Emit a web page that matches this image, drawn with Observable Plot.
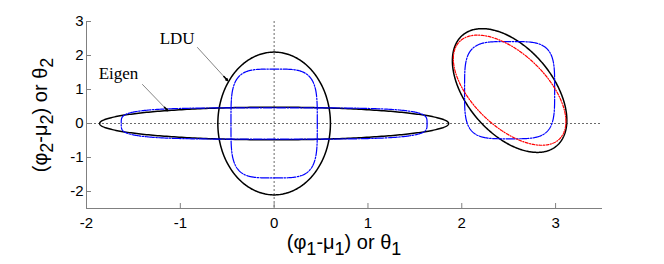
<!DOCTYPE html>
<html><head><meta charset="utf-8">
<script src="https://cdn.jsdelivr.net/npm/d3@7"></script>
<script src="https://cdn.jsdelivr.net/npm/@observablehq/plot@0.6"></script>
<style>
body{margin:0;background:#fff} #chart{width:664px;height:264px}
#chart g[aria-label$="tick label"], #chart g[aria-label$="tick label"] text {font-size:15px !important;font-family:'Liberation Sans', Arial, sans-serif !important;}
</style>
</head><body><div id="chart"></div>
<script>
// Contour parameters (data units)
const shapeNames   = ["eigenBlack", "eigenBlue", "lduBlack", "lduBlue", "rotBlack", "rotRed", "rotBlue"];
const centerX      = [0, 0, 0, 0, 2.51, 2.51, 2.51];
const centerY      = [0, 0, 0, 0, 0.97, 0.98, 0.98];
const halfWidth    = [1.86, 1.63, 0.6, 0.46, 0.61, 0.6, 0.48];
const halfHeight   = [0.48, 0.46, 2.1, 1.6, 1.82, 1.62, 1.43];
const correlation  = [0, 0, 0, 0, -0.48, -0.57, 0];
const shapePower   = [2, 4, 2, 4, 2, 2, 4];

const xTicks = [-2, -1, 0, 1, 2, 3];
const yTicks = [-2, -1, 0, 1, 2, 3];

const noteText = ["LDU", "Eigen"];
const noteX = [-1.22, -1.87];
const noteY = [2.35, 1.32];
const arrowX1 = [-0.817, -1.403];
const arrowY1 = [2.235, 1.147];
const arrowX2 = [-0.497, -1.136];
const arrowY2 = [1.265, 0.382];

// build outline tables from parameters
const N = 360;
const points = [];
shapeNames.forEach((name, i) => {
  const p = shapePower[i], r = correlation[i];
  for (let k = 0; k <= N; k++) {
    const t = 2 * Math.PI * k / N;
    const c = Math.cos(t), s = Math.sin(t);
    const cu = Math.sign(c) * Math.pow(Math.abs(c), 2 / p);
    const su = Math.sign(s) * Math.pow(Math.abs(s), 2 / p);
    points.push({
      shape: name,
      x: centerX[i] + halfWidth[i] * cu,
      y: centerY[i] + halfHeight[i] * (r * cu + Math.sqrt(1 - r * r) * su)
    });
  }
});
const notes = noteText.map((t, i) => ({t, x: noteX[i], y: noteY[i]}));
const arrows = arrowX1.map((d, i) => ({x1: d, y1: arrowY1[i], x2: arrowX2[i], y2: arrowY2[i]}));
// short segment at the tip to draw a darker, heavier head
const heads = arrows.map(a => ({x1: a.x2 - (a.x2 - a.x1) * 0.12, y1: a.y2 - (a.y2 - a.y1) * 0.12, x2: a.x2, y2: a.y2}));

const sel = names => points.filter(d => names.includes(d.shape));
const gray = "#808080";
const fmt = d => String(d);

const plot = Plot.plot({
  width: 664, height: 264,
  marginLeft: 86, marginRight: 62, marginTop: 21, marginBottom: 56,
  x: {domain: [-2, 3.5]},
  y: {domain: [-2.5, 3]},
  style: {fontFamily: "'Liberation Sans', Arial, sans-serif", fontSize: "15px", background: "white", color: "black"},
  marks: [
    Plot.ruleY([0], {stroke: "#444", strokeWidth: 0.8, strokeDasharray: "2,2"}),
    Plot.ruleX([0], {stroke: "#444", strokeWidth: 0.8, strokeDasharray: "2,2"}),
    Plot.ruleX([-2], {stroke: gray, strokeWidth: 1}),
    Plot.ruleY([-2.5], {stroke: gray, strokeWidth: 1}),
    Plot.axisX({ticks: xTicks, tickFormat: fmt, tickSize: -5, tickPadding: 14, stroke: gray, label: null, fontSize: 15}),
    Plot.axisY({ticks: yTicks, tickFormat: fmt, tickSize: -5, tickPadding: 8, stroke: gray, label: null, fontSize: 15}),
    Plot.line(sel(["eigenBlack", "lduBlack", "rotBlack"]), {x: "x", y: "y", z: "shape", stroke: "black", strokeWidth: 1.5}),
    Plot.line(sel(["eigenBlue", "lduBlue", "rotBlue"]), {x: "x", y: "y", z: "shape", stroke: "#0000ff", strokeWidth: 1.2, strokeDasharray: "9,1.5,1.5,1.5"}),
    Plot.line(sel(["rotRed"]), {x: "x", y: "y", z: "shape", stroke: "#ff0000", strokeWidth: 1.2, strokeDasharray: "3,1.5,1,1.5"}),
    Plot.arrow(arrows, {x1: "x1", y1: "y1", x2: "x2", y2: "y2", stroke: "#666", strokeWidth: 0.8, headLength: 0}),
    Plot.arrow(heads, {x1: "x1", y1: "y1", x2: "x2", y2: "y2", stroke: "black", strokeWidth: 1.6, headLength: 7, headAngle: 50}),
    Plot.text(notes, {x: "x", y: "y", text: "t", textAnchor: "start", lineAnchor: "bottom", fontFamily: "'Liberation Serif', 'Times New Roman', serif", fontSize: 17, fill: "black"})
  ]
});
document.getElementById("chart").appendChild(plot);

// axis titles with subscripts
const svg = d3.select(plot);
function title(g, parts) {
  const t = g.append("text").attr("font-family", "'Liberation Sans', Arial, sans-serif").attr("font-size", 20).attr("fill", "black").attr("text-anchor", "middle");
  parts.forEach(([s, sub]) => {
    const ts = t.append("tspan").text(s);
    if (sub) ts.attr("baseline-shift", "-35%").attr("font-size", 18);
  });
  return t;
}
title(svg.append("g").attr("transform", "translate(344,249)"),
  [["(φ"], ["1", true], ["-μ"], ["1", true], [") or θ"], ["1", true]]);
title(svg.append("g").attr("transform", "translate(47,115) rotate(-90)"),
  [["(φ"], ["2", true], ["-μ"], ["2", true], [") or θ"], ["2", true]]);
</script>
</body></html>
